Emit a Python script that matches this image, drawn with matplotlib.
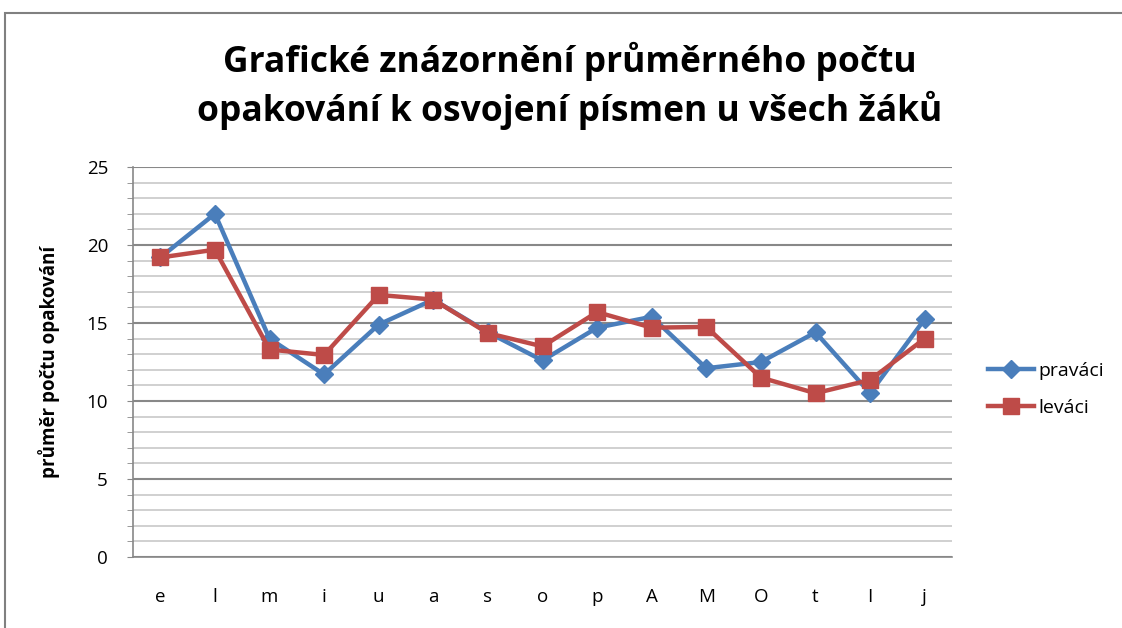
import matplotlib
matplotlib.use('Agg')
import matplotlib.pyplot as plt
from matplotlib.patches import Rectangle
import numpy as np

# Data
letters = ['e', 'l', 'm', 'i', 'u', 'a', 's', 'o', 'p', 'A', 'M', 'O', 't', 'I', 'j']
pravaci = [19.2, 22.0, 14.0, 11.7, 14.9, 16.5, 14.4, 12.6, 14.7, 15.4, 12.1, 12.5, 14.4, 10.5, 15.25]
levaci = [19.2, 19.7, 13.3, 12.95, 16.8, 16.5, 14.35, 13.5, 15.7, 14.7, 14.75, 11.5, 10.5, 11.35, 14.0]

title = 'Grafické znázornění průměrného počtu\nopakování k osvojení písmen u všech žáků'
ylabel = 'průměr počtu opakování'

plt.rcParams['font.family'] = ['Open Sans', 'DejaVu Sans']

W, H = 1122, 628
fig = plt.figure(figsize=(W/100, H/100), dpi=100)

# chart frame (cut off at right and bottom)
fig.patches.append(Rectangle((5/W, -0.1), 1.2, 1 - 13/H + 0.1,
                             transform=fig.transFigure, fill=False,
                             edgecolor='#808080', linewidth=1.5))

ax = fig.add_axes([133/W, 1 - 557/H, (952-133)/W, (557-167)/H])
x = np.arange(len(letters))

ax.plot(x, pravaci, color='#4a7ebb', linewidth=3.2, marker='D',
        markersize=9, label='praváci', zorder=3)
ax.plot(x, levaci, color='#be4b48', linewidth=3.2, marker='s',
        markersize=12, label='leváci', zorder=4)

ax.set_xlim(-0.5, len(letters) - 0.5)
ax.set_ylim(0, 25)
ax.set_yticks(np.arange(0, 26, 5))
ax.set_yticks(np.arange(0, 26, 1), minor=True)
ax.set_xticks(x)
ax.set_xticklabels(letters)
ax.grid(axis='y', which='minor', color='#c8c8c8', linewidth=1.2)
ax.grid(axis='y', which='major', color='#888888', linewidth=1.5)
ax.set_axisbelow(True)
for s in ['top', 'right']:
    ax.spines[s].set_visible(False)
for s in ['left', 'bottom']:
    ax.spines[s].set_color('#888888')
    ax.spines[s].set_linewidth(1.2)
ax.tick_params(axis='y', which='both', length=4, color='#888888', labelsize=13.5, pad=14)
ax.tick_params(axis='x', length=0, labelsize=13.5, pad=22)
ax.set_ylabel(ylabel, fontsize=13.5, fontweight='bold', labelpad=19)

fig.text(570/W, 1 - 86/H, title, ha='center', va='center', fontsize=25.5,
         fontweight='bold', linespacing=1.3)

ax.legend(loc='center left', bbox_to_anchor=(1.022, 0.43), frameon=False,
          fontsize=14, handlelength=2.4, labelspacing=1.0, handletextpad=0.2)

plt.savefig('out.png', dpi=100)
